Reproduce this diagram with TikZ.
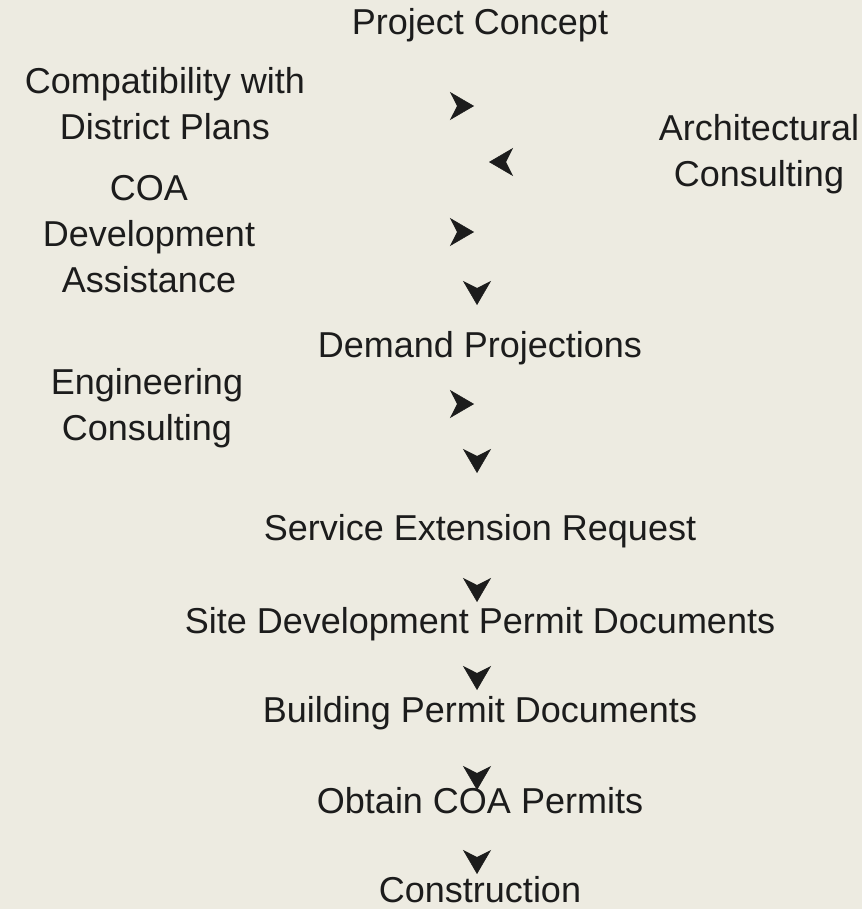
\documentclass[tikz,border=0pt]{standalone}
\usepackage{fontspec}
\setmainfont{Liberation Sans}
\usetikzlibrary{arrows.meta}
\definecolor{bg}{RGB}{237,235,225}
\definecolor{ink}{RGB}{28,28,28}
\tikzset{
  lbl/.style={text=ink, font=\fontsize{36}{46}\selectfont, align=center, anchor=base, inner sep=0pt},
  tip/.style={draw=ink, fill=ink, line width=0.5pt, -{Stealth[length=24pt,width=28pt,inset=7pt]}}
}
\begin{document}
\begin{tikzpicture}[x=1pt,y=-1pt]
\fill[bg] (0,0) rectangle (862,909);
\useasboundingbox (0,0) rectangle (862,909);
% nodes (base anchor = baseline of the last line)
\node[lbl] (concept) at (480,35) {Project Concept};
\node[lbl] (compat) at (165,140) {Compatibility with\\District Plans};
\node[lbl] (arch) at (759,187) {Architectural\\Consulting};
\node[lbl] (coa) at (149,292) {COA\\Development\\Assistance};
\node[lbl] (demand) at (480,357) {Demand Projections};
\node[lbl] (eng) at (147,440) {Engineering\\Consulting};
\node[lbl] (service) at (480,540) {Service Extension Request};
\node[lbl] (site) at (480,633) {Site Development Permit Documents};
\node[lbl] (building) at (480,722) {Building Permit Documents};
\node[lbl] (obtain) at (480,813) {Obtain COA Permits};
\node[lbl] (constr) at (480,902) {Construction};
% arrow tips (connector lines are not visible)
\coordinate (t1) at (474,106);
\coordinate (t2) at (489,162);
\coordinate (t3) at (474,232);
\coordinate (t4) at (477,305);
\coordinate (t5) at (474,404);
\coordinate (t6) at (477,473);
\coordinate (t7) at (477,602);
\coordinate (t8) at (477,690);
\coordinate (t9) at (477,790);
\coordinate (t10) at (477,874);
\draw[tip] (t1) ++(-1,0) -- (t1);
\draw[tip] (t2) ++(1,0) -- (t2);
\draw[tip] (t3) ++(-1,0) -- (t3);
\draw[tip] (t4) ++(0,-1) -- (t4);
\draw[tip] (t5) ++(-1,0) -- (t5);
\draw[tip] (t6) ++(0,-1) -- (t6);
\draw[tip] (t7) ++(0,-1) -- (t7);
\draw[tip] (t8) ++(0,-1) -- (t8);
\draw[tip] (t9) ++(0,-1) -- (t9);
\draw[tip] (t10) ++(0,-1) -- (t10);
\end{tikzpicture}
\end{document}
